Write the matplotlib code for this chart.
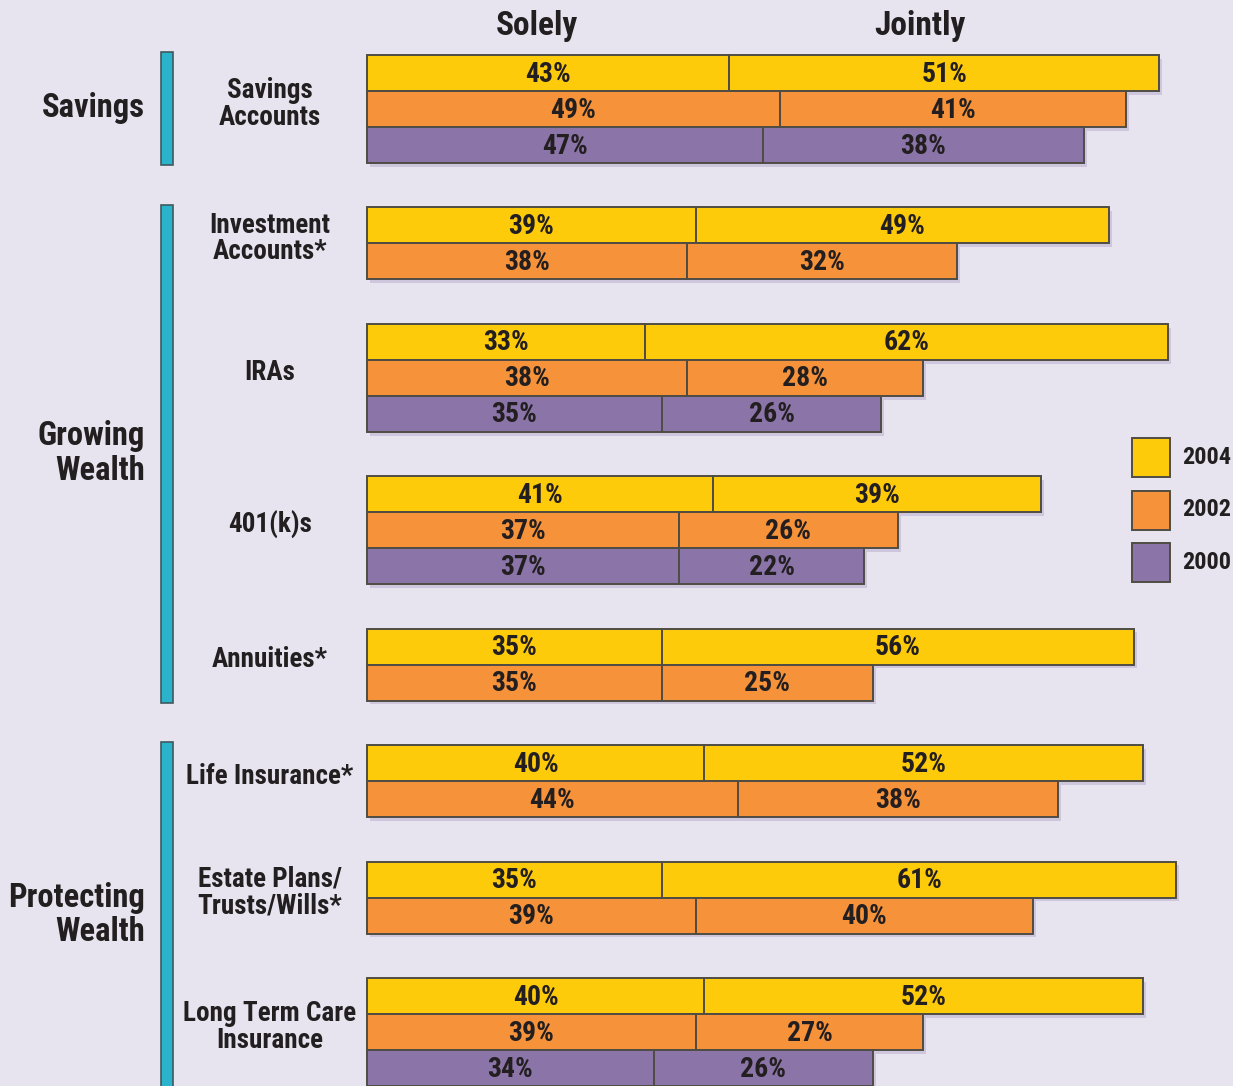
import matplotlib
matplotlib.use('Agg')
import matplotlib.pyplot as plt
from matplotlib.patches import Rectangle

plt.rcParams['font.family'] = ['Roboto Condensed', 'Archivo Narrow', 'PT Sans Narrow',
                               'Pragati Narrow', 'DejaVu Sans']
plt.rcParams['font.weight'] = 'bold'

# data
categories = ['Savings\nAccounts', 'Investment\nAccounts*', 'IRAs', '401(k)s', 'Annuities*',
              'Life Insurance*', 'Estate Plans/\nTrusts/Wills*', 'Long Term Care\nInsurance']
years = ['2004', '2002', '2000']
solely_2004 = [43, 39, 33, 41, 35, 40, 35, 40]
jointly_2004 = [51, 49, 62, 39, 56, 52, 61, 52]
solely_2002 = [49, 38, 38, 37, 35, 44, 39, 39]
jointly_2002 = [41, 32, 28, 26, 25, 38, 40, 27]
solely_2000 = [47, None, 35, 37, None, None, None, 34]
jointly_2000 = [38, None, 26, 22, None, None, None, 26]
group_names = ['Savings', 'Growing\nWealth', 'Protecting\nWealth']
group_members = [[0], [1, 2, 3, 4], [5, 6, 7]]
col_titles = ['Solely', 'Jointly']

colors = {'2004': '#fecb0b', '2002': '#f5923a', '2000': '#8a74a8'}
bg = '#e7e4ef'
edge = '#4f4c44'
txt = '#231f20'
cyan = '#2bb3cb'

series = [(solely_2004, jointly_2004, '2004'),
          (solely_2002, jointly_2002, '2002'),
          (solely_2000, jointly_2000, '2000')]

# figure: 1233 x 1086 px, one axes over the whole canvas
fig = plt.figure(figsize=(12.33, 10.86), dpi=100, facecolor=bg)
ax = fig.add_axes([0, 0, 1, 1])
ax.set_facecolor(bg)
px = 8.43          # pixels per percent
x0 = 367           # pixel where bars start
pitch = 36         # pixels per bar row
top0 = 55          # pixel of first bar top
ax.set_xlim(-x0 / px, (1233 - x0) / px)
ax.set_ylim((1086 - top0) / pitch, -top0 / pitch)
ax.axis('off')

gap = 1.235
ystart = []
y = 0
for i in range(len(categories)):
    ystart.append(y)
    n = sum(1 for s in series if s[0][i] is not None)
    y += n + gap

for i, cat in enumerate(categories):
    row = 0
    for sol, joi, yr in series:
        if sol[i] is None:
            continue
        yc = ystart[i] + row + 0.5
        left = 0
        for v in (sol[i], joi[i]):
            # soft shadow
            ax.add_patch(Rectangle((left + 0.35, yc - 0.5 + 0.1), v, 1.0,
                                   facecolor='#cdc6dc', edgecolor='none', zorder=1))
            ax.barh(yc, v, left=left, height=1.0, color=colors[yr],
                    edgecolor=edge, linewidth=1.4, zorder=2)
            ax.text(left + v / 2, yc + 0.03, f'{v}%', ha='center', va='center',
                    fontsize=20, color=txt, zorder=3)
            left += v
        row += 1
    n = row
    ax.text(-97 / px, ystart[i] + n / 2 - 0.14, cat, ha='center', va='center',
            fontsize=19.5, color=txt, linespacing=0.98)

# group brackets and labels
for name, members in zip(group_names, group_members):
    first = members[0]
    last = members[-1]
    n_last = sum(1 for s in series if s[0][last] is not None)
    y_top = ystart[first] - 0.08
    y_bot = ystart[last] + n_last + 0.05
    ax.add_patch(Rectangle((-206 / px, y_top), 12 / px, y_bot - y_top,
                           facecolor=cyan, edgecolor='#3f5a5e', linewidth=1.2, zorder=2))
    ax.text(-222 / px, (y_top + y_bot) / 2, name, ha='right', va='center',
            fontsize=23.5, color=txt, linespacing=1.1)

# column titles
ax.text(20.2, -0.8, col_titles[0], ha='center', va='center', fontsize=24, color=txt)
ax.text(65.6, -0.8, col_titles[1], ha='center', va='center', fontsize=24, color=txt)

# legend
for k, yr in enumerate(years):
    ly = (438 - top0) / pitch + k * 52.5 / pitch
    ax.add_patch(Rectangle((765 / px, ly), 38 / px, 39 / pitch,
                           facecolor=colors[yr], edgecolor=edge, linewidth=1.4, zorder=2))
    ax.text(815 / px, ly + 19.5 / pitch, yr, ha='left', va='center',
            fontsize=17.5, color=txt)

fig.savefig('out.png', dpi=100, facecolor=bg)
